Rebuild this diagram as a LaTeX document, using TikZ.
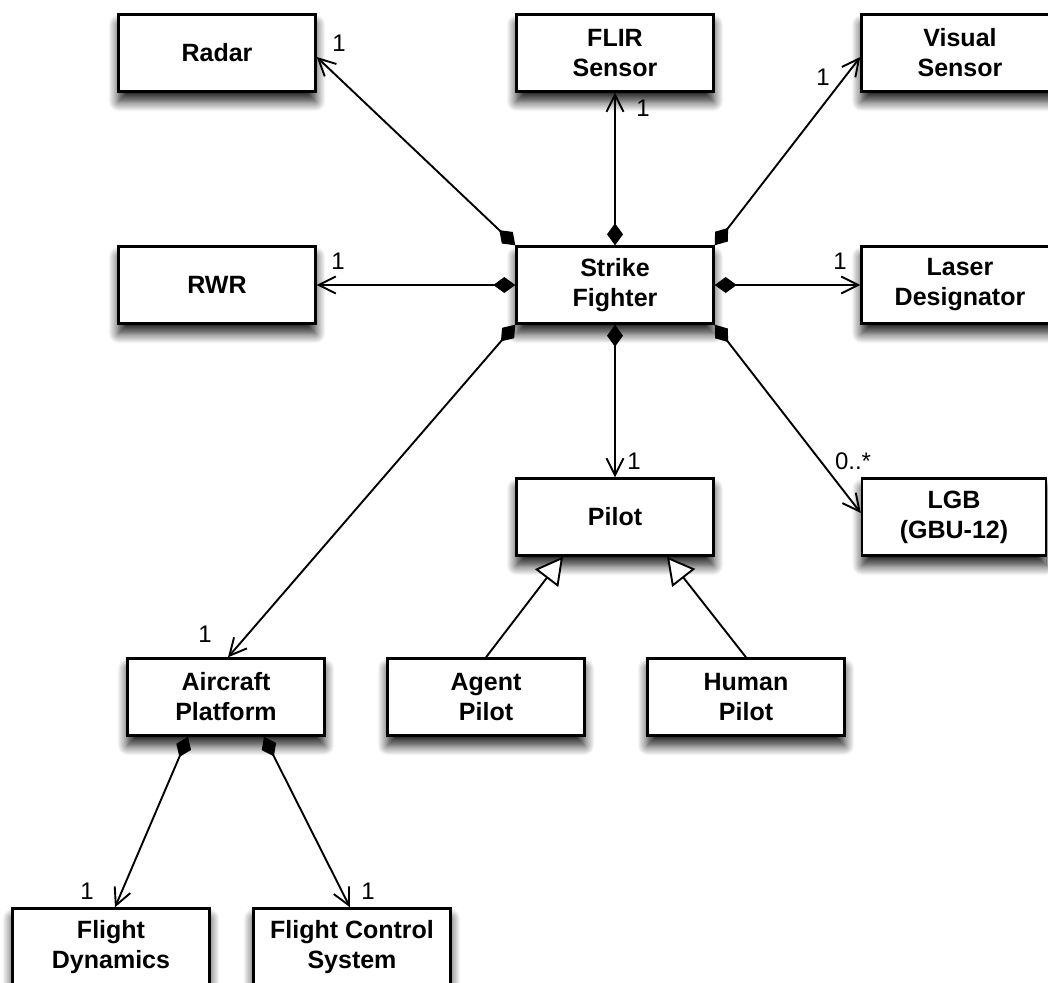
\documentclass[tikz,border=0pt]{standalone}
\usepackage{fontspec}
\setmainfont{Liberation Sans}
\usetikzlibrary{arrows.meta,shadows.blur}

\tikzset{
  classbox/.style={
    draw=black, line width=2.4pt, fill=white, rectangle,
    minimum width=197pt, minimum height=77pt, inner sep=0pt,
    align=center, font=\fontsize{25}{30}\selectfont\bfseries,
    blur shadow={shadow xshift=0pt, shadow yshift=-10pt,
                 shadow opacity=90, shadow blur radius=10pt,
                 shadow blur steps=12}
  },
  mult/.style={font=\fontsize{24}{28}\selectfont, inner sep=0pt},
  link/.style={line width=1.9pt},
  compose/.style={link,
    {Diamond[length=22pt,width=16pt]}-{Straight Barb[length=17pt,width=17pt,line width=1.9pt]}},
  inherit/.style={link,
    -{Triangle[open,length=27pt,width=29pt,fill=white,line width=1.9pt]}}
}

\begin{document}
\begin{tikzpicture}[x=1pt, y=-1pt]
  \path[use as bounding box, clip] (0,0) rectangle (1048,982);

  % classes
  \node[classbox] (radar)  at (217,53)  {Radar};
  \node[classbox] (flir)   at (615,53)  {FLIR\\Sensor};
  \node[classbox] (visual) at (960,53)  {Visual\\Sensor};
  \node[classbox] (rwr)    at (217,285) {RWR};
  \node[classbox] (sf)     at (615,285) {Strike\\Fighter};
  \node[classbox] (laser)  at (960,285) {Laser\\Designator};
  \node[classbox] (pilot)  at (615,517) {Pilot};
  \node[classbox, minimum width=184pt] (lgb) at (954,517) {LGB\\(GBU-12)};
  \node[classbox] (ap)     at (226,697) {Aircraft\\Platform};
  \node[classbox] (agent)  at (486,697) {Agent\\Pilot};
  \node[classbox] (human)  at (746,697) {Human\\Pilot};
  \node[classbox] (fd)     at (111,947) {Flight\\Dynamics};
  \node[classbox] (fcs)    at (352,947) {Flight Control\\System};

  % composition links from the strike fighter
  \draw[compose] (sf.north west) -- ([yshift=-4pt]radar.east);
  \draw[compose] (sf.north) -- (flir.south);
  \draw[compose] (sf.north east) -- ([yshift=-4pt]visual.west);
  \draw[compose] (sf.west) -- (rwr.east);
  \draw[compose] (sf.east) -- (laser.west);
  \draw[compose] (sf.south) -- (pilot.north);
  \draw[compose] (sf.south east) -- ([yshift=4pt]lgb.west);
  \draw[compose] (sf.south west) -- ([xshift=2pt]ap.north);

  % composition links from the aircraft platform
  \draw[compose] ([xshift=-38pt]ap.south) -- ([xshift=4pt]fd.north);
  \draw[compose] ([xshift=38pt]ap.south) -- ([xshift=-2pt]fcs.north);

  % generalisation
  \draw[inherit] (agent.north) -- ([xshift=-52pt]pilot.south);
  \draw[inherit] (human.north) -- ([xshift=52pt]pilot.south);

  % multiplicities
  \node[mult] (mradar)  at (339,43)  {1};
  \node[mult] (mflir)   at (643,108) {1};
  \node[mult] (mvisual) at (823,77)  {1};
  \node[mult] (mrwr)    at (338,261) {1};
  \node[mult] (mlaser)  at (840,261) {1};
  \node[mult] (mpilot)  at (634,461) {1};
  \node[mult] (mlgb)    at (853,461) {0..*};
  \node[mult] (map)     at (205,634) {1};
  \node[mult] (mfd)     at (87,891)  {1};
  \node[mult] (mfcs)    at (368,891) {1};
\end{tikzpicture}
\end{document}
